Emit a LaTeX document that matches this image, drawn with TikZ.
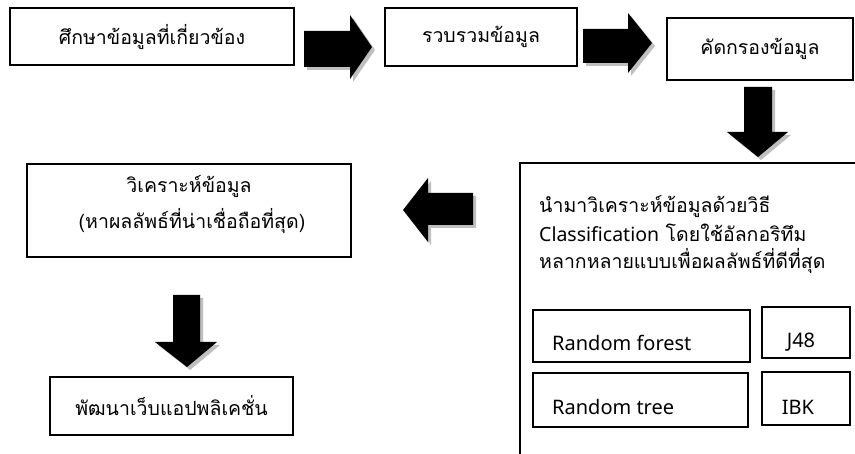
\documentclass[tikz,border=0pt]{standalone}
\usepackage{fontspec}
\newfontfamily\thaif[Script=Thai]{Loma}
\newfontfamily\latf{Noto Sans}
\tikzset{
  x=1pt, y=-1pt,
  box/.style={draw=black, line width=1.1pt, inner sep=0pt, outer sep=0pt, anchor=north west, fill=white},
  ttext/.style={font=\thaif\fontsize{19.5}{27}\selectfont, inner sep=0pt, align=center},
  ltext/.style={font=\latf\fontsize{20}{27}\selectfont, inner sep=0pt},
  arrowshadow/.style={fill=black!25, shift={(3,3)}},
  arrowbody/.style={fill=black},
}
\newcommand\blockarrow[1]{\fill[arrowshadow] #1 -- cycle; \fill[arrowbody] #1 -- cycle;}
\begin{document}
\begin{tikzpicture}
\useasboundingbox (0,0) rectangle (855,454);
\clip (0,0) rectangle (855,454);
\fill[white] (0,0) rectangle (855,454);
% boxes
\node[box, minimum width=284pt, minimum height=57pt] (b1) at (10,8) {};
\node[box, minimum width=192pt, minimum height=58pt] (b2) at (385,8) {};
\node[box, minimum width=186pt, minimum height=62pt] (b3) at (667,18) {};
\node[box, minimum width=380pt, minimum height=340pt] (b4) at (520,163) {};
\node[box, minimum width=324pt, minimum height=93pt] (b5) at (27,164) {};
\node[box, minimum width=243pt, minimum height=58pt] (b6) at (50,377) {};
\node[box, minimum width=217pt, minimum height=52pt] (rf) at (533,310) {};
\node[box, minimum width=88pt, minimum height=51pt] (j48) at (762,307) {};
\node[box, minimum width=215pt, minimum height=54pt] (rt) at (533,373) {};
\node[box, minimum width=88pt, minimum height=53pt] (ibk) at (762,372) {};
% texts
\node[ttext] (t1) at (152,37) {ศึกษาข้อมูลที่เกี่ยวข้อง};
\node[ttext] (t2) at (b2.center) {รวบรวมข้อมูล};
\node[ttext] (t3) at (b3.center) {คัดกรองข้อมูล};
\node[ttext] (t5a) at (189,186) {วิเคราะห์ข้อมูล};
\node[ttext] (t5b) at (192,221) {(หาผลลัพธ์ที่น่าเชื่อถือที่สุด)};
\node[ttext] (t6) at (b6.center) {พัฒนาเว็บแอปพลิเคชั่น};
\node[ttext, anchor=west] (t4a) at (539,206) {นำมาวิเคราะห์ข้อมูลด้วยวิธี};
\node[ttext, anchor=west] (t4b) at (539,233) {{\latf\fontsize{19.5}{27}\selectfont Classification} โดยใช้อัลกอริทึม};
\node[ttext, anchor=west] (t4c) at (539,261) {หลากหลายแบบเพื่อผลลัพธ์ที่ดีที่สุด};
\node[ltext, anchor=west] (trf) at (552,343) {Random forest};
\node[ltext] (tj48) at (801,342) {J48};
\node[ltext, anchor=west] (trt) at (552,407) {Random tree};
\node[ltext] (tibk) at (798,407) {IBK};
% block arrows
\blockarrow{(304,31) -- (350,31) -- (350,15) -- (372,47) -- (350,79) -- (350,67) -- (304,67)}
\blockarrow{(583,29) -- (628,29) -- (628,13) -- (652,43) -- (628,73) -- (628,63) -- (583,63)}
\blockarrow{(744,87) -- (772,87) -- (772,132) -- (788,132) -- (758,157) -- (727,132) -- (744,132)}
\blockarrow{(473,193) -- (428,193) -- (428,178) -- (403,210) -- (428,242) -- (428,225) -- (473,225)}
\blockarrow{(173,295) -- (200,295) -- (200,342) -- (217,342) -- (187,367) -- (155,342) -- (173,342)}
\end{tikzpicture}
\end{document}
